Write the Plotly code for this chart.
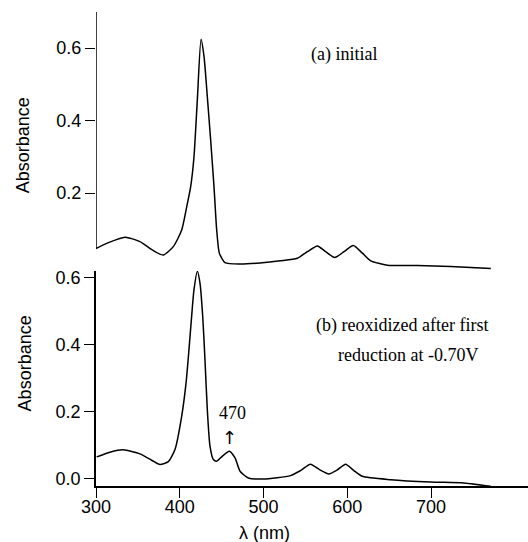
import plotly.graph_objects as go

# (a) initial spectrum
wl_a = [300, 312.7, 334.6, 352.5, 368.5, 380.4, 392.3, 402.3, 408.3, 413, 417, 421, 425.4, 429, 432.9,
        436.9, 440.9, 444.1, 447.3, 454, 472, 495.8, 520, 540.4, 552.4, 564.3, 574.2, 585, 596.1,
        607.3, 618.1, 628, 648, 683.8, 723.6, 771.4]
abs_a = [0.047, 0.061, 0.078, 0.066, 0.041, 0.029, 0.052, 0.098, 0.162, 0.217, 0.300, 0.457, 0.624, 0.576, 0.466,
         0.346, 0.217, 0.098, 0.034, 0.008, 0.004, 0.007, 0.013, 0.020, 0.038, 0.054, 0.038, 0.022, 0.038,
         0.055, 0.034, 0.013, 0.001, 0.0, -0.003, -0.008]

# (b) reoxidized after first reduction at -0.70V
wl_b = [300.8, 316.7, 332.6, 352.5, 366.5, 376.4, 386.4, 394.3, 402.3, 407.5, 411, 414.2, 417, 421, 424.2,
        427.4, 430.1, 432.9, 436.1, 440.1, 444.1, 451.2, 459.2, 466, 472, 481.9, 499.8, 532.3, 544.2,
        556.1, 567.3, 578, 588, 598, 607.9, 617.9, 651.7, 699.5, 739.3, 771.2]
abs_b = [0.066, 0.080, 0.087, 0.075, 0.056, 0.043, 0.052, 0.088, 0.187, 0.286, 0.386, 0.486, 0.565, 0.620, 0.584,
         0.486, 0.357, 0.207, 0.098, 0.058, 0.053, 0.069, 0.083, 0.063, 0.023, 0.003, 0.0, 0.010, 0.025,
         0.044, 0.027, 0.015, 0.027, 0.044, 0.025, 0.008, -0.002, -0.009, -0.012, -0.022]

x_ticks = [300, 400, 500, 600, 700]
y_ticks_a = [0.2, 0.4, 0.6]
y_ticks_b = [0.0, 0.2, 0.4, 0.6]

TICKFONT = dict(family="Liberation Sans, Arial, sans-serif", size=18, color="black")
SERIF = dict(family="Liberation Serif, Times New Roman, serif", size=18, color="black")

fig = go.Figure()
fig.add_trace(go.Scatter(x=wl_a, y=abs_a, mode="lines", xaxis="x", yaxis="y",
                         line=dict(color="black", width=1.5, shape="spline", smoothing=0.6),
                         showlegend=False, hoverinfo="skip"))
fig.add_trace(go.Scatter(x=wl_b, y=abs_b, mode="lines", xaxis="x2", yaxis="y2",
                         line=dict(color="black", width=1.5, shape="spline", smoothing=0.6),
                         showlegend=False, hoverinfo="skip"))

x_range = [300, 815.8]
yr_a = [-0.0124, 0.6993]
yr_b = [-0.0209, 0.6209]

fig.update_layout(
    width=528, height=542,
    margin=dict(l=96, r=0, t=12, b=56),
    paper_bgcolor="white", plot_bgcolor="white",
    xaxis=dict(domain=[0, 1], range=x_range, anchor="y", showline=False, showticklabels=False,
               ticks="", showgrid=False, zeroline=False, matches="x2"),
    yaxis=dict(domain=[0.4557, 1], range=yr_a, anchor="x", showline=False, showgrid=False,
               zeroline=False, ticks="outside", ticklen=10, tickwidth=1.2, tickcolor="black",
               tickvals=y_ticks_a, tickformat=".1f", tickfont=TICKFONT),
    xaxis2=dict(domain=[0, 1], range=x_range, anchor="y2", showline=True, linecolor="black",
                linewidth=1.5, showgrid=False, zeroline=False, ticks="outside", ticklen=10,
                tickwidth=1.2, tickcolor="black", tickvals=x_ticks, tickfont=TICKFONT,
                ticklabelstandoff=-6),
    yaxis2=dict(domain=[0, 0.4536], range=yr_b, anchor="x2", showline=True, linecolor="black",
                linewidth=1.5, showgrid=False, zeroline=False, ticks="outside", ticklen=10,
                tickwidth=1.2, tickcolor="black", tickvals=y_ticks_b, tickformat=".1f",
                tickfont=TICKFONT),
)

# top panel y-axis line (starts where the spectrum begins)
fig.add_shape(type="line", xref="x", yref="y", x0=300, x1=300, y0=abs_a[0], y1=yr_a[1],
              line=dict(color="black", width=1.5))

ann = [
    dict(text="(a) initial", x=596, y=0.581, xref="x", yref="y", font=SERIF),
    dict(text="(b) reoxidized after first", x=665.4, y=0.457, xref="x2", yref="y2", font=SERIF),
    dict(text="reduction at -0.70V", x=672.5, y=0.370, xref="x2", yref="y2", font=SERIF),
    dict(text="470", x=462.5, y=0.197, xref="x2", yref="y2", font=SERIF),
    dict(text="↑", x=459.2, y=0.125, xref="x2", yref="y2",
         font=dict(family="DejaVu Sans, sans-serif", size=18, color="black")),
    dict(text="Absorbance", x=-0.169, y=0.719, xref="paper", yref="paper", textangle=-90, font=TICKFONT),
    dict(text="Absorbance", x=-0.164, y=0.259, xref="paper", yref="paper", textangle=-90, font=TICKFONT),
    dict(text="λ (nm)", x=0.389, y=-0.099, xref="paper", yref="paper", font=TICKFONT),
]
for a in ann:
    fig.add_annotation(showarrow=False, xanchor="center", yanchor="middle", **a)

fig.write_html("out.html", config={"displayModeBar": False},
               post_script="document.body.style.margin='0px';document.body.style.overflow='hidden';")
